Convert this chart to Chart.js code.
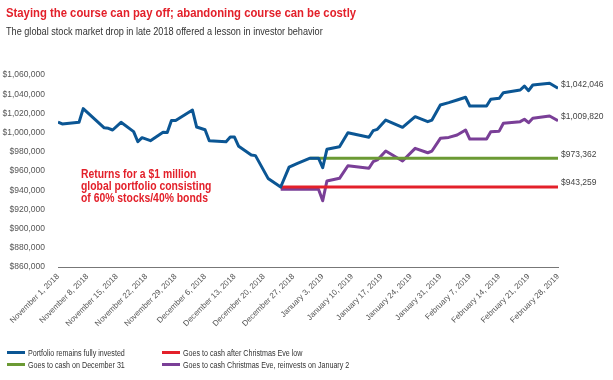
<!DOCTYPE html>
<html lang="en">
  <head>
    <meta charset="UTF-8" />
    <title>Staying the course</title>
    <script src="https://cdn.jsdelivr.net/npm/chart.js@4"></script>
    <style>
      body { margin: 0; background: #fff; font-family: "Liberation Sans", Arial, sans-serif; }
      .wrap { position: relative; width: 613px; height: 380px; overflow: hidden; }
      #chart { position: absolute; left: 0; top: 0; }
      .title { position: absolute; left: 6px; top: 5px; font-size: 13px; font-weight: bold; color: #e3202a; white-space: nowrap; transform: scaleX(0.87); transform-origin: left top; }
      .subtitle { position: absolute; left: 6px; top: 25px; font-size: 10.5px; color: #333; white-space: nowrap; transform: scaleX(0.87); transform-origin: left top; }
      .note { position: absolute; left: 81px; top: 168px; font-size: 12px; font-weight: bold; color: #e3202a; line-height: 12px; white-space: nowrap; transform: scaleX(0.865); transform-origin: left top; }
      .legend { position: absolute; left: 7px; top: 348px; font-size: 8.5px; color: #333; }
      .item { position: absolute; white-space: nowrap; }
      .item i { display: inline-block; width: 18px; height: 3px; vertical-align: middle; margin-right: 3px; position: relative; top: -1px; }
      .item span { display: inline-block; transform: scaleX(0.84); transform-origin: left center; }
    </style>
  </head>
  <body>
    <div class="wrap">
      <canvas id="chart" width="613" height="380"></canvas>
      <div class="title">Staying the course can pay off; abandoning course can be costly</div>
      <div class="subtitle">The global stock market drop in late 2018 offered a lesson in investor behavior</div>
      <div class="note">Returns for a $1 million<br />global portfolio consisting<br />of 60% stocks/40% bonds</div>
      <div class="legend" id="legend"></div>
    </div>
    <script>
      // days counted from November 1, 2018; values in dollars
      let weekLabels = [
        "November 1, 2018", "November 8, 2018", "November 15, 2018", "November 22, 2018",
        "November 29, 2018", "December 6, 2018", "December 13, 2018", "December 20, 2018",
        "December 27, 2018", "January 3, 2019", "January 10, 2019", "January 17, 2019",
        "January 24, 2019", "January 31, 2019", "February 7, 2019", "February 14, 2019",
        "February 21, 2019", "February 28, 2019",
      ];

      let investedDays = [0, 1, 5, 6, 11, 12, 13, 15, 18, 19, 20, 22, 25, 26, 27, 28, 32, 33, 35, 36,
        40, 41, 42, 43, 46, 47, 50, 53, 55, 57, 60, 62, 63, 64, 67, 69, 74, 75, 76, 78,
        82, 85, 88, 89, 91, 93, 95, 97, 98, 102, 103, 105, 106, 110, 111, 112, 113, 117, 119];
      let investedValues = [1011000, 1009000, 1010700, 1025000, 1005000, 1004500, 1002700, 1010700,
        1001000, 990500, 994700, 991600, 1000300, 1000000, 1012600, 1012600, 1023500, 1005800,
        1003000, 991600, 990500, 995400, 995400, 985700, 976700, 976000, 952300, 943300,
        964000, 968000, 973400, 973400, 963400, 982600, 985300, 999900, 995100, 1002000,
        1003400, 1013100, 1005500, 1016600, 1011400, 1013100, 1028800, 1031200, 1034000,
        1036800, 1027700, 1027700, 1034700, 1035700, 1041600, 1044400, 1048500, 1043700,
        1049600, 1051400, 1046200];

      let reinvestDays = [53, 62, 63, 64, 67, 69, 74, 75, 76, 78, 82, 85, 88, 89, 91, 93, 95, 97,
        98, 102, 103, 105, 106, 110, 111, 112, 113, 117, 119];
      let reinvestValues = [941000, 941000, 929000, 949600, 952400, 965500, 962800, 969700, 971500,
        980800, 970400, 983600, 979000, 980800, 994000, 995000, 997500, 1002700, 993300,
        993300, 1000900, 1001500, 1009700, 1011400, 1013900, 1010300, 1014900, 1017300, 1012400];

      let dec31Days = [60, 119];
      let dec31Values = [973362, 973362];
      let xmasDays = [53, 119];
      let xmasValues = [943259, 943259];

      let seriesNames = [
        "Portfolio remains fully invested",
        "Goes to cash on December 31",
        "Goes to cash after Christmas Eve low",
        "Goes to cash Christmas Eve, reinvests on January 2",
      ];
      let endLabels = ["$1,042,046", "$973,362", "$943,259", "$1,009,820"];
      let colors = ["#0b5694", "#6b9a34", "#e3202a", "#7a3f97"];

      function pts(days, values) {
        return days.map((d, i) => ({ x: d, y: values[i] }));
      }

      let allDays = [investedDays, dec31Days, xmasDays, reinvestDays];
      let allValues = [investedValues, dec31Values, xmasValues, reinvestValues];

      let data = {
        datasets: seriesNames.map((name, i) => ({
          label: name,
          data: pts(allDays[i], allValues[i]),
          borderColor: colors[i],
          backgroundColor: colors[i],
          borderWidth: 3,
          pointRadius: 0,
          tension: 0,
          borderJoinStyle: "round",
        })),
      };

      let endLabelPlugin = {
        id: "endLabels",
        afterDatasetsDraw(chart) {
          let ctx = chart.ctx;
          ctx.save();
          ctx.font = "8.5px 'Liberation Sans', sans-serif";
          ctx.fillStyle = "#444";
          ctx.textAlign = "left";
          ctx.textBaseline = "middle";
          chart.data.datasets.forEach((ds, i) => {
            let meta = chart.getDatasetMeta(i);
            let last = meta.data[meta.data.length - 1];
            ctx.fillText(endLabels[i], chart.chartArea.right + 3, last.y - 4);
          });
          ctx.restore();
        },
      };

      Chart.defaults.font.family = "'Liberation Sans', sans-serif";
      Chart.defaults.color = "#555";

      let myChart = new Chart(document.getElementById("chart"), {
        type: "line",
        data: data,
        plugins: [endLabelPlugin],
        options: {
          responsive: false,
          animation: false,
          layout: { padding: { top: 75, right: 55, bottom: 0, left: 0 } },
          plugins: { legend: { display: false }, tooltip: { enabled: false } },
          scales: {
            x: {
              type: "linear",
              min: 0,
              max: 119,
              grid: { display: false, drawTicks: false },
              border: { display: true, color: "#777", width: 1 },
              afterFit: (s) => { s.height = 113; },
              ticks: {
                stepSize: 7,
                autoSkip: false,
                minRotation: 45,
                maxRotation: 45,
                padding: 5,
                font: { size: 8 },
                color: "#555",
                callback: (v) => weekLabels[v / 7],
              },
            },
            y: {
              min: 860000,
              max: 1060000,
              grid: { display: false, drawTicks: false },
              border: { display: false },
              afterFit: (s) => { s.width = 58; },
              ticks: {
                stepSize: 20000,
                padding: 13,
                font: { size: 8.5 },
                color: "#555",
                callback: (v) => "$" + v.toLocaleString("en-US"),
              },
            },
          },
        },
      });

      let legend = document.getElementById("legend");
      let spots = [[0, 0], [0, 12], [155, 0], [155, 12]];
      seriesNames.forEach((name, i) => {
        let el = document.createElement("div");
        el.className = "item";
        el.style.left = spots[i][0] + "px";
        el.style.top = spots[i][1] + "px";
        el.innerHTML = '<i style="background:' + colors[i] + '"></i><span>' + name + "</span>";
        legend.appendChild(el);
      });
    </script>
  </body>
</html>
